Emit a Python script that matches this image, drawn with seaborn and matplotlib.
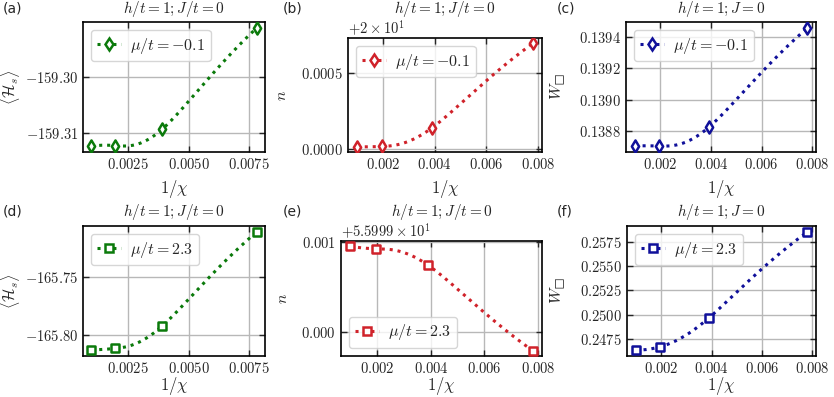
import numpy as np
import pandas as pd
import seaborn as sns
import matplotlib
matplotlib.use("Agg")
import matplotlib.pyplot as plt
from matplotlib.lines import Line2D
from matplotlib.ticker import MultipleLocator, ScalarFormatter

# ---- data ----
inv_chi = [1 / 1024, 1 / 512, 1 / 256, 1 / 128]

energy_mu_m01 = [-159.3123, -159.3122, -159.3093, -159.2913]
density_mu_m01 = [20.000013, 20.000015, 20.000139, 20.000693]
wilson_mu_m01 = [0.138704, 0.138703, 0.138822, 0.139458]

energy_mu_23 = [-165.8126, -165.8112, -165.7920, -165.7114]
density_mu_23 = [55.999955, 55.999927, 55.999742, 55.998794]
wilson_mu_23 = [0.24640, 0.24674, 0.24972, 0.25849]

panel_labels = ["(a)", "(b)", "(c)", "(d)", "(e)", "(f)"]
titles = [r"$h/t=1;J/t=0$", r"$h/t=1;J/t=0$", r"$h/t=1;J=0$"] * 2
ylabels = [r"$\langle\mathcal{H}_s\rangle$", r"$n$", r"$W_{□}$"] * 2
legend_labels = [r"$\mu/t=-0.1$"] * 3 + [r"$\mu/t=2.3$"] * 3
series = [energy_mu_m01, density_mu_m01, wilson_mu_m01,
          energy_mu_23, density_mu_23, wilson_mu_23]


def natural_spline(x, y, xs):
    """Natural cubic spline through (x, y), evaluated at xs."""
    n = len(x)
    h = np.diff(x)
    A = np.zeros((n, n))
    rhs = np.zeros(n)
    A[0, 0] = A[-1, -1] = 1
    for k in range(1, n - 1):
        A[k, k - 1] = h[k - 1]
        A[k, k] = 2 * (h[k - 1] + h[k])
        A[k, k + 1] = h[k]
        rhs[k] = 6 * ((y[k + 1] - y[k]) / h[k] - (y[k] - y[k - 1]) / h[k - 1])
    M = np.linalg.solve(A, rhs)
    out = np.empty_like(xs)
    for j, xv in enumerate(xs):
        k = min(max(np.searchsorted(x, xv) - 1, 0), n - 2)
        a, b = x[k], x[k + 1]
        hk = b - a
        out[j] = (M[k] * (b - xv) ** 3 / (6 * hk) + M[k + 1] * (xv - a) ** 3 / (6 * hk)
                  + (y[k] / hk - M[k] * hk / 6) * (b - xv)
                  + (y[k + 1] / hk - M[k + 1] * hk / 6) * (xv - a))
    return out


# ---- style ----
sns.set_theme(style="ticks")
plt.rcParams.update({
    "font.family": "serif",
    "mathtext.fontset": "cm",
    "axes.formatter.use_mathtext": True,
    "axes.unicode_minus": True,
    "xtick.direction": "in",
    "ytick.direction": "in",
    "xtick.top": True,
    "ytick.right": True,
    "axes.edgecolor": "black",
    "axes.linewidth": 1.2,
    "font.size": 10.5,
    "xtick.labelsize": 10.5,
    "ytick.labelsize": 10.5,
})
plt.rcParams["font.serif"] = ["cmr10", "DejaVu Serif"]

colors = ["#0b7a0b", "#d0222a", "#10109a"] * 2
markers = ["d"] * 3 + ["s"] * 3

fig = plt.figure(figsize=(8.34, 3.97), dpi=100)
W, H = 834, 397
# axes boxes in pixels: left, top, right, bottom
boxes = [(83, 22, 265, 152), (348, 38, 542, 152), (626, 22, 816, 152),
         (83, 226, 265, 356), (341, 241, 542, 356), (627, 226, 816, 356)]
ylabel_x = [22, 289, 568, 22, 290, 568]
label_pos = [(3, 8), (283, 8), (557, 8), (3, 212), (283, 212), (557, 212)]
xlabel_y = [178, 178, 178, 375, 375, 375]
title_base = [13, 13, 13, 216, 216, 216]

for i, (l, t, r, b) in enumerate(boxes):
    ax = fig.add_axes([l / W, 1 - b / H, (r - l) / W, (b - t) / H])
    y = np.array(series[i], dtype=float)
    x = np.array(inv_chi, dtype=float)
    # smooth curve through the points, spline in log(1/chi)
    u = np.log(x)
    us = np.linspace(u.min(), u.max(), 200)
    xs = np.exp(us)
    ys = natural_spline(u, y - y.mean(), us) + y.mean()
    c = colors[i]
    sns.lineplot(x=xs, y=ys, ax=ax, color=c, linestyle=(0, (1, 1.6)), linewidth=2.2, sort=False)
    sns.scatterplot(x=x, y=y, ax=ax, marker=markers[i], s=38, facecolor="white",
                    edgecolor=c, linewidth=1.8, zorder=5)
    ax.grid(True, color="#b8b8b8", linewidth=1.0)
    ax.set_axisbelow(True)
    ax.set_xlabel(r"$1/\chi$", fontsize=12)
    ax.set_ylabel(ylabels[i], fontsize=11.5)
    ax.xaxis.set_label_coords((l + r) / 2 / W, 1 - xlabel_y[i] / H, transform=fig.transFigure)
    ax.yaxis.set_label_coords(ylabel_x[i] / W, 1 - (t + b) / 2 / H, transform=fig.transFigure)
    ax.set_title(titles[i], fontsize=11, y=1 + (t - title_base[i]) / (b - t), pad=0)
    if i in (0, 3):
        ax.xaxis.set_major_locator(MultipleLocator(0.0025))
    else:
        ax.xaxis.set_major_locator(MultipleLocator(0.002))
    ylocs = [0.01, 0.0005, 0.0002, 0.05, 0.001, 0.0025]
    ax.yaxis.set_major_locator(MultipleLocator(ylocs[i]))
    if i == 4:
        fmt = ScalarFormatter(useOffset=55.999, useMathText=True)
        ax.yaxis.set_major_formatter(fmt)
    ax.tick_params(length=4, width=1)
    handle = Line2D([], [], color=c, linestyle=(0, (1, 1.6)), linewidth=2.2,
                    marker=markers[i], markersize=6, markerfacecolor="white",
                    markeredgewidth=1.8, markeredgecolor=c)
    loc = "lower left" if i == 4 else "upper left"
    ax.legend([handle], [legend_labels[i]], loc=loc, fontsize=11.5,
              handlelength=1.5, handletextpad=0.6, borderpad=0.35,
              fancybox=True, edgecolor="#cccccc")
    px, py = label_pos[i]
    fig.text(px / W, 1 - py / H, panel_labels[i], family="DejaVu Sans",
             fontsize=10, va="center", ha="left")

fig.savefig("out.png", dpi=100)
